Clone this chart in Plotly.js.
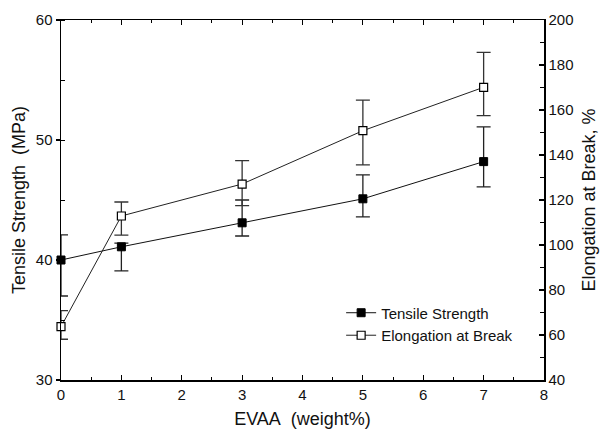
<!DOCTYPE html>
<html>
<head>
<meta charset="utf-8">
<script src="https://cdn.plot.ly/plotly-3.0.1.min.js"></script>
<style>html,body{margin:0;padding:0;background:#fff;}#chart{width:601px;height:433px;}</style>
</head>
<body>
<div id="chart"></div>
<script>
// Data
const evaa = [0, 1, 3, 5, 7];
const tensileStrength = [40.0, 41.1, 43.1, 45.1, 48.2];
const tensilePlus = [2.1, 0.3, 1.9, 2.0, 2.9];
const tensileMinus = [3.0, 2.0, 1.1, 1.5, 2.1];
const elongation = [63.7, 112.9, 127.1, 150.8, 170.1];
const elongationPlus = [7.1, 6.2, 10.4, 13.6, 15.5];
const elongationMinus = [5.6, 8.5, 9.6, 15.2, 12.6];

const FONT = 'Arial, "Liberation Sans", sans-serif';

const traces = [
  {
    x: evaa, y: tensileStrength, name: 'Tensile Strength',
    type: 'scatter', mode: 'lines+markers', cliponaxis: false,
    line: {color: '#111', width: 1},
    marker: {symbol: 'square', size: 8, color: '#000', line: {color: '#000', width: 1}},
    error_y: {type: 'data', symmetric: false, array: tensilePlus, arrayminus: tensileMinus,
              color: '#222', thickness: 1.3, width: 7},
    xaxis: 'x', yaxis: 'y'
  },
  {
    x: evaa, y: elongation, name: 'Elongation at Break',
    type: 'scatter', mode: 'lines+markers', cliponaxis: false,
    line: {color: '#222', width: 1},
    marker: {symbol: 'square', size: 8, color: '#fff', line: {color: '#000', width: 1.2}},
    error_y: {type: 'data', symmetric: false, array: elongationPlus, arrayminus: elongationMinus,
              color: '#333', thickness: 1.3, width: 7},
    xaxis: 'x', yaxis: 'y2'
  }
];

const layout = {
  width: 601, height: 433,
  margin: {l: 61, r: 57, t: 20, b: 53, pad: 0},
  paper_bgcolor: '#fff', plot_bgcolor: '#fff',
  font: {family: FONT, size: 15, color: '#111'},
  showlegend: true,
  legend: {x: 0.58, y: 0.232, xanchor: 'left', yanchor: 'top',
           bgcolor: 'rgba(0,0,0,0)', font: {family: FONT, size: 15, color: '#111'},
           tracegroupgap: 0},
  xaxis: {
    range: [0, 8], dtick: 1, tick0: 0,
    showgrid: false, zeroline: false,
    showline: true, linecolor: '#000', linewidth: 1.5, mirror: 'ticks',
    ticks: 'inside', ticklen: 5, tickwidth: 1.2, tickcolor: '#000',
    minor: {dtick: 0.5, ticks: 'inside', ticklen: 3, tickwidth: 1, tickcolor: '#000', showgrid: false},
    tickfont: {family: FONT, size: 15, color: '#111'},
    title: {text: 'EVAA\u00a0\u00a0(weight%)', font: {family: FONT, size: 18, color: '#111'}, standoff: 11},
    automargin: false
  },
  yaxis: {
    range: [30, 60], dtick: 10, tick0: 30,
    showgrid: false, zeroline: false,
    showline: true, linecolor: '#000', linewidth: 1.5,
    ticks: 'outside', ticklen: 4, tickwidth: 1.2, tickcolor: '#000',
    minor: {dtick: 5, ticks: 'inside', ticklen: 4, tickwidth: 1, tickcolor: '#000', showgrid: false},
    tickfont: {family: FONT, size: 15, color: '#111'},
    title: {text: 'Tensile Strength\u00a0\u00a0(MPa)', font: {family: FONT, size: 18, color: '#111'}, standoff: 5},
    automargin: false
  },
  yaxis2: {
    range: [40, 200], dtick: 20, tick0: 40,
    overlaying: 'y', side: 'right',
    showgrid: false, zeroline: false,
    showline: true, linecolor: '#000', linewidth: 1.5,
    ticks: 'inside', ticklen: 5, tickwidth: 1.2, tickcolor: '#000',
    minor: {dtick: 10, ticks: 'inside', ticklen: 4, tickwidth: 1, tickcolor: '#000', showgrid: false},
    tickfont: {family: FONT, size: 15, color: '#111'},
    title: {text: 'Elongation at Break, %', font: {family: FONT, size: 18, color: '#111'}, standoff: 10},
    automargin: false
  }
};

Plotly.newPlot('chart', traces, layout, {displayModeBar: false, staticPlot: true});
</script>
</body>
</html>
